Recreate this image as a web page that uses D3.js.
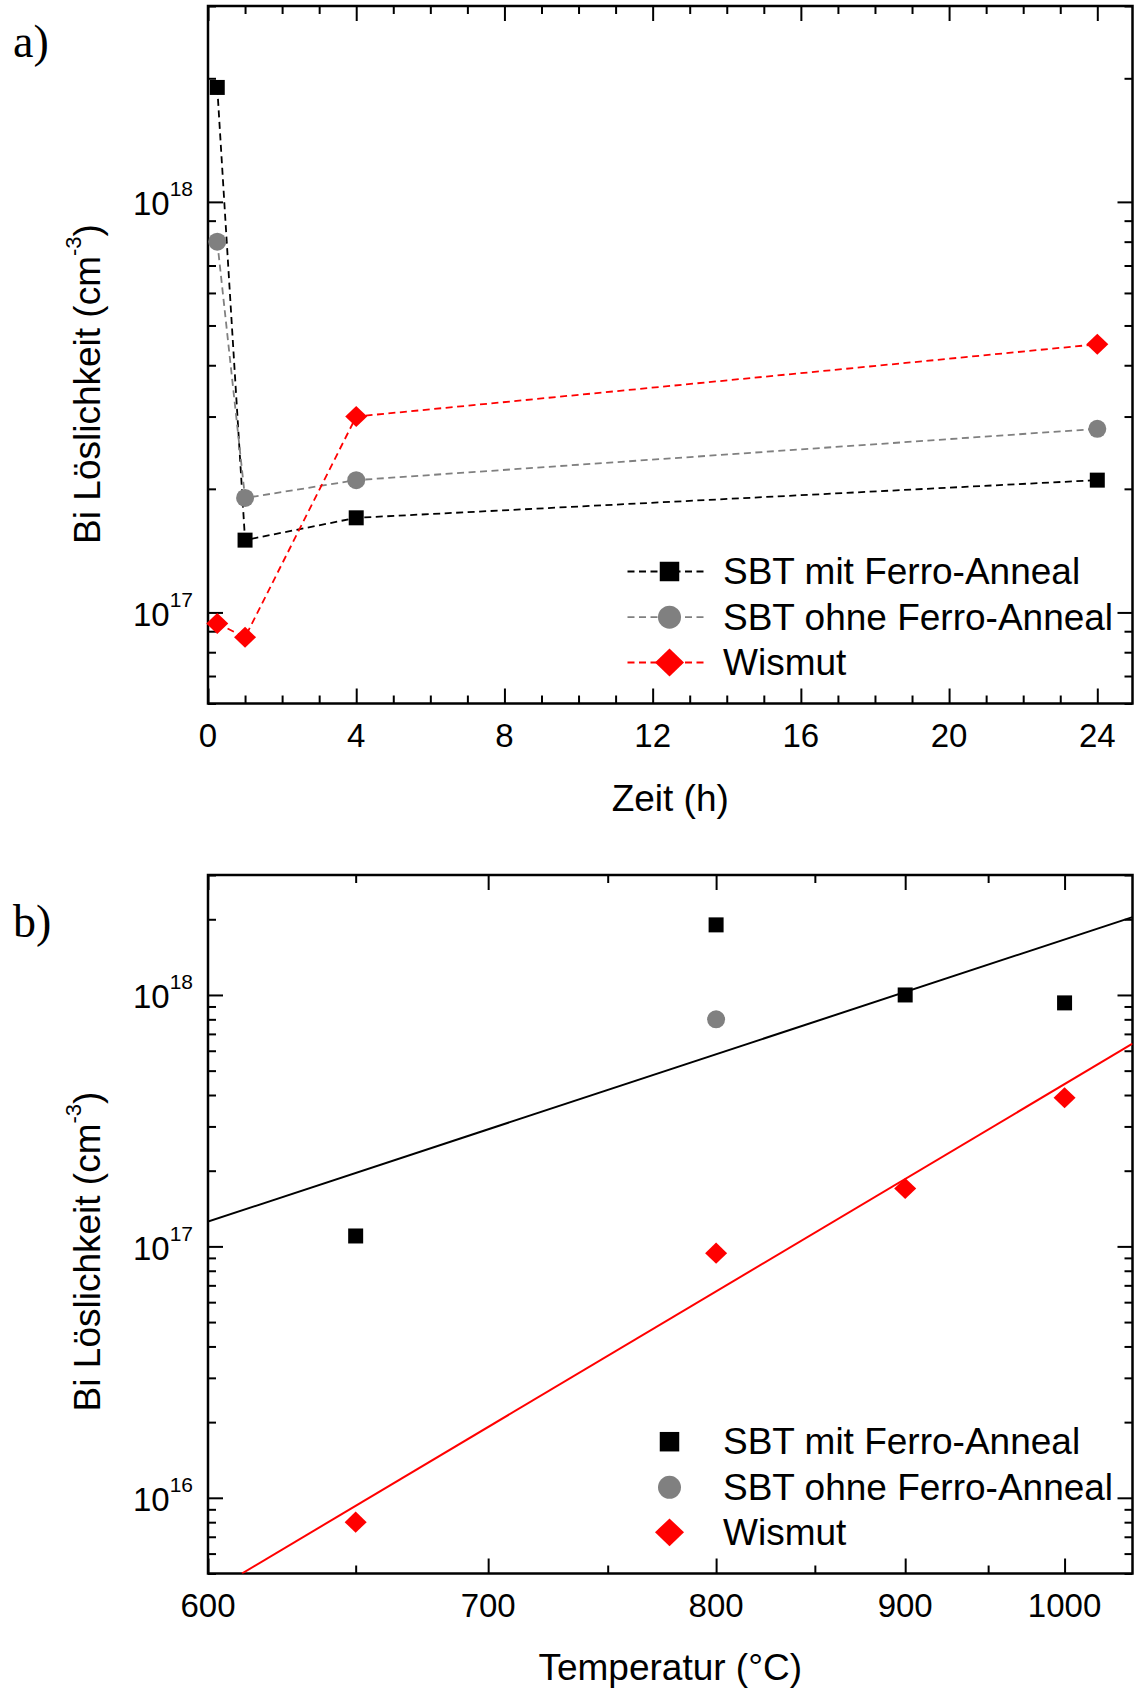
<!DOCTYPE html>
<html>
<head>
<meta charset="utf-8">
<script src="https://cdn.jsdelivr.net/npm/d3@7"></script>
<style>
  html, body { margin: 0; padding: 0; background: #fff; }
  svg { display: block; font-family: "Liberation Sans", Arial, sans-serif; }
</style>
</head>
<body>
<svg id="chart" width="1134" height="1688"></svg>
<script>
// ---- Data: Bi solubility vs. anneal time (panel a) ----
const timeHours     = [0.25, 1, 4, 24];
const sbtMitByTime  = [1.9e18, 1.5e17, 1.7e17, 2.1e17];
const sbtOhneByTime = [8.0e17, 1.9e17, 2.1e17, 2.8e17];
const wismutByTime  = [9.4e16, 8.7e16, 3.0e17, 4.5e17];

// ---- Data: Bi solubility vs. temperature (panel b) ----
const tempSbtMit    = [650, 800, 900, 1000];
const sbtMitByTemp  = [1.1e17, 1.9e18, 1.0e18, 9.3e17];
const tempSbtOhne   = [800];
const sbtOhneByTemp = [8.0e17];
const tempWismut    = [650, 800, 900, 1000];
const wismutByTemp  = [8.0e15, 9.4e16, 1.7e17, 3.9e17];

// Arrhenius fit lines, given by their end points (°C, cm^-3)
const fitSbtTemp     = [600, 1048];
const fitSbtValue    = [1.255e17, 2.04e18];
const fitWismutTemp  = [611, 1048];
const fitWismutValue = [5.0e15, 6.4e17];

// ---- Labels and ticks ----
const seriesNames     = ["SBT mit Ferro-Anneal", "SBT ohne Ferro-Anneal", "Wismut"];
const timeMajorTicks  = [0, 4, 8, 12, 16, 20, 24];
const timeMinorTicks  = [1, 2, 3, 5, 6, 7, 9, 10, 11, 13, 14, 15, 17, 18, 19, 21, 22, 23];
const tempMajorTicks  = [600, 700, 800, 900, 1000];
const tempMinorTicks  = [650, 750, 850, 950];
const decadesA        = [17, 18];
const decadesB        = [16, 17, 18];
const yTitle          = "Bi Löslichkeit (cm";
const xTitleA         = "Zeit (h)";
const xTitleB         = "Temperatur (°C)";

const zip = (xs, vs) => xs.map((t, i) => ({ t, v: vs[i] }));

const svg = d3.select("#chart");
const A = { left: 208, right: 1132.5, top: 6, bottom: 703.5 };
const B = { left: 208, right: 1132.5, top: 875, bottom: 1573.5 };

const xA = d3.scaleLinear().domain([0, 24.95]).range([A.left, A.right]);
const yA = d3.scaleLog().domain([6e16, 3e18]).range([A.bottom, A.top]);

// Temperature axis is linear in 1/T (Kelvin), labelled in °C
const invT = t => 1 / (t + 273.15);
const xBinv = d3.scaleLinear().domain([invT(600), invT(1048)]).range([B.left, B.right]);
const xB = t => xBinv(invT(t));
const yB = d3.scaleLog().domain([5e15, 3e18]).range([B.bottom, B.top]);

const styles = [
  { name: seriesNames[0], color: "#000000", shape: "square" },
  { name: seriesNames[1], color: "#808080", shape: "circle" },
  { name: seriesNames[2], color: "#ff0000", shape: "diamond" }
];

const shapePath = {
  square: s => `M${-s / 2},${-s / 2}h${s}v${s}h${-s}Z`,
  circle: s => { const r = s / 2; return `M${-r},0a${r},${r} 0 1,0 ${2 * r},0a${r},${r} 0 1,0 ${-2 * r},0Z`; },
  diamond: s => `M0,${-s * 0.48}L${s / 2},0L0,${s * 0.48}L${-s / 2},0Z`
};
const dataSize = { square: 15, circle: 18, diamond: 22 };
const legendSize = { square: 19.5, circle: 23, diamond: 29 };

// ---- Ticks on all four sides, pointing inward ----
function tickSet(axisFn, transform, scale, values, len) {
  const g = svg.append("g").attr("transform", transform)
    .call(axisFn(scale).tickValues(values).tickSize(-len).tickFormat(""));
  g.select(".domain").remove();
  g.selectAll("text").remove();
  g.selectAll("line").attr("stroke", "#000").attr("stroke-width", 2);
}

function frameAndTicks(P, xs, xMajor, xMinor, ys) {
  const yMajor = ys.ticks().filter(v => Math.abs(Math.log10(v) - Math.round(Math.log10(v))) < 1e-9);
  const yMinor = ys.ticks().filter(v => !yMajor.includes(v));
  tickSet(d3.axisBottom, `translate(0,${P.bottom})`, xs, xMajor, 15);
  tickSet(d3.axisBottom, `translate(0,${P.bottom})`, xs, xMinor, 8);
  tickSet(d3.axisTop, `translate(0,${P.top})`, xs, xMajor, 15);
  tickSet(d3.axisTop, `translate(0,${P.top})`, xs, xMinor, 8);
  tickSet(d3.axisLeft, `translate(${P.left},0)`, ys, yMajor, 15);
  tickSet(d3.axisLeft, `translate(${P.left},0)`, ys, yMinor, 8);
  tickSet(d3.axisRight, `translate(${P.right},0)`, ys, yMajor, 15);
  tickSet(d3.axisRight, `translate(${P.right},0)`, ys, yMinor, 8);
  svg.append("rect")
    .attr("x", P.left).attr("y", P.top)
    .attr("width", P.right - P.left).attr("height", P.bottom - P.top)
    .attr("fill", "none").attr("stroke", "#000").attr("stroke-width", 2.5);
}

function yDecadeLabels(ys, decades) {
  decades.forEach(d => {
    const t = svg.append("text")
      .attr("x", 193).attr("y", ys(Math.pow(10, d)) + 13.5)
      .attr("text-anchor", "end").attr("font-size", 33).attr("fill", "#000");
    t.append("tspan").text("10");
    t.append("tspan").attr("font-size", 21).attr("dy", -19).text(String(d));
  });
}

function xLabels(xs, values, baseline, fmt) {
  svg.append("g").selectAll("text").data(values).join("text")
    .attr("x", d => xs(d)).attr("y", baseline)
    .attr("text-anchor", "middle").attr("font-size", 33).attr("fill", "#000")
    .text(fmt);
}

function yAxisTitle(cy) {
  const t = svg.append("text")
    .attr("transform", `translate(100,${cy}) rotate(-90)`)
    .attr("text-anchor", "middle").attr("font-size", 37).attr("fill", "#000");
  t.append("tspan").text(yTitle);
  t.append("tspan").attr("font-size", 22).attr("dy", -19).text("-3");
  t.append("tspan").attr("dy", 19).text(")");
}

function markers(g, pts, xs, ys, style, sizes) {
  g.append("g").selectAll("path").data(pts).join("path")
    .attr("transform", d => `translate(${xs(d.t)},${ys(d.v)})`)
    .attr("d", shapePath[style.shape](sizes[style.shape]))
    .attr("fill", style.color);
}

function legend(rows, withLine) {
  styles.forEach((s, i) => {
    const y = rows[i];
    if (withLine) {
      svg.append("line")
        .attr("x1", 627.5).attr("x2", 706.5).attr("y1", y).attr("y2", y)
        .attr("stroke", s.color).attr("stroke-width", 1.8)
        .attr("stroke-dasharray", "7,4.5");
    }
    svg.append("path")
      .attr("transform", `translate(669.5,${y})`)
      .attr("d", shapePath[s.shape](legendSize[s.shape]))
      .attr("fill", s.color);
    svg.append("text")
      .attr("x", 723).attr("y", y + 12.5)
      .attr("font-size", 37).attr("fill", "#000")
      .text(s.name);
  });
}

// ================= Panel a: time =================
frameAndTicks(A, xA, timeMajorTicks, timeMinorTicks, yA);
yDecadeLabels(yA, decadesA);
xLabels(xA, timeMajorTicks, 747, d => d);
svg.append("text").attr("x", (A.left + A.right) / 2).attr("y", 811)
  .attr("text-anchor", "middle").attr("font-size", 37).text(xTitleA);
yAxisTitle(384);
svg.append("text").attr("x", 13).attr("y", 57)
  .attr("font-family", "'Liberation Serif', 'Times New Roman', serif")
  .attr("font-size", 46).text("a)");

const seriesA = [
  zip(timeHours, sbtMitByTime),
  zip(timeHours, sbtOhneByTime),
  zip(timeHours, wismutByTime)
];
const lineA = d3.line().x(d => xA(d.t)).y(d => yA(d.v));
const gA = svg.append("g");
seriesA.forEach((pts, i) => {
  gA.append("path").datum(pts).attr("d", lineA)
    .attr("fill", "none").attr("stroke", styles[i].color)
    .attr("stroke-width", 1.8).attr("stroke-dasharray", "7,4.5");
});
seriesA.forEach((pts, i) => markers(gA, pts, xA, yA, styles[i], dataSize));
legend([571.5, 617.2, 662.5], true);

// ================= Panel b: temperature =================
frameAndTicks(B, xBinv, tempMajorTicks.map(invT), tempMinorTicks.map(invT), yB);
yDecadeLabels(yB, decadesB);
xLabels(xB, tempMajorTicks, 1617, d => d);
svg.append("text").attr("x", (B.left + B.right) / 2).attr("y", 1680)
  .attr("text-anchor", "middle").attr("font-size", 37).text(xTitleB);
yAxisTitle(1251.5);
svg.append("text").attr("x", 13).attr("y", 937)
  .attr("font-family", "'Liberation Serif', 'Times New Roman', serif")
  .attr("font-size", 46).text("b)");

svg.append("clipPath").attr("id", "clipB").append("rect")
  .attr("x", B.left).attr("y", B.top)
  .attr("width", B.right - B.left).attr("height", B.bottom - B.top);

const lineB = d3.line().x(d => xB(d.t)).y(d => yB(d.v));
const gB = svg.append("g");
const fits = [
  { pts: zip(fitSbtTemp, fitSbtValue), color: styles[0].color },
  { pts: zip(fitWismutTemp, fitWismutValue), color: styles[2].color }
];
fits.forEach(f => {
  gB.append("path").datum(f.pts).attr("d", lineB)
    .attr("clip-path", "url(#clipB)")
    .attr("fill", "none").attr("stroke", f.color).attr("stroke-width", 2);
});
markers(gB, zip(tempSbtMit, sbtMitByTemp), xB, yB, styles[0], dataSize);
markers(gB, zip(tempSbtOhne, sbtOhneByTemp), xB, yB, styles[1], dataSize);
markers(gB, zip(tempWismut, wismutByTemp), xB, yB, styles[2], dataSize);
legend([1441.7, 1487.3, 1532.3], false);
</script>
</body>
</html>
